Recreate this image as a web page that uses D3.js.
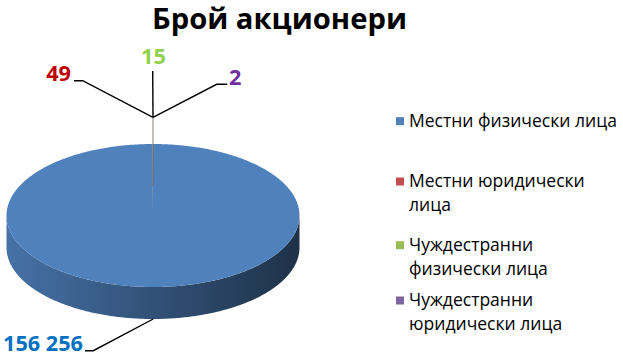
<!DOCTYPE html>
<html><head><meta charset="utf-8">
<script src="https://cdn.jsdelivr.net/npm/d3@7"></script>
<style>html,body{margin:0;padding:0;background:#fff;overflow:hidden}</style>
</head><body>
<svg id="chart" width="623" height="356"></svg>
<script>
// Shareholder counts by category
const categories = [
  "Местни физически лица",
  "Местни юридически лица",
  "Чуждестранни физически лица",
  "Чуждестранни юридически лица"
];
const values = [156256, 49, 15, 2];
const sliceColors = ["#4F81BD", "#C0504D", "#9BBB59", "#8064A2"];
const labelColors = ["#0070C0", "#C00000", "#92D050", "#7030A0"];
const legendLines = [
  ["Местни физически лица"],
  ["Местни юридически", "лица"],
  ["Чуждестранни", "физически лица"],
  ["Чуждестранни", "юридически лица"]
];
const chartTitle = "Брой акционери";

const fmt = d3.formatLocale({decimal: ",", thousands: " ", grouping: [3], currency: ["", ""]}).format(",");

const svg = d3.select("#chart");
const font = "'Open Sans', 'Noto Sans', sans-serif";

// shrink/grow a text element's font so it spans the given width
function fitWidth(sel, width) {
  const node = sel.node();
  const fs = parseFloat(sel.attr("font-size"));
  const w = node.getComputedTextLength();
  sel.attr("font-size", (fs * width / w).toFixed(2));
}

// ---- title ----
svg.append("text")
  .attr("x", 279.5).attr("y", 29)
  .attr("text-anchor", "middle")
  .attr("font-family", font).attr("font-weight", "bold")
  .attr("font-size", 26).attr("fill", "#000")
  .text(chartTitle)
  .call(fitWidth, 255);

// ---- 3D pie geometry ----
const cx = 153, cy = 215.5, rx = 146.5, ry = 71.5, depth = 32;
const pie = d3.pie().sort(null).value(d => d).startAngle(0).endAngle(2 * Math.PI);
const arcs = pie(values);
const pt = (a, f = 1, dz = 0) => [cx + rx * f * Math.sin(a), cy - ry * f * Math.cos(a) + dz];
const sample = (a0, a1) => {
  const n = Math.max(2, Math.ceil(Math.abs(a1 - a0) / 0.01));
  return d3.range(n + 1).map(i => a0 + (a1 - a0) * i / n);
};
const line = d3.line();

const defs = svg.append("defs");
arcs.forEach((d, i) => {
  const c = d3.color(sliceColors[i]);
  const g = defs.append("linearGradient")
    .attr("id", "side" + i)
    .attr("gradientUnits", "userSpaceOnUse")
    .attr("x1", cx - rx).attr("x2", cx + rx).attr("y1", 0).attr("y2", 0);
  g.append("stop").attr("offset", 0).attr("stop-color", c.darker(0.35));
  g.append("stop").attr("offset", 0.5).attr("stop-color", c.darker(1.3));
  g.append("stop").attr("offset", 1).attr("stop-color", c.darker(2.7));
});

// side walls (front half only)
const sides = svg.append("g");
arcs.forEach((d, i) => {
  const a0 = Math.max(d.startAngle, Math.PI / 2);
  const a1 = Math.min(d.endAngle, 3 * Math.PI / 2);
  if (a1 <= a0) return;
  const top = sample(a0, a1).map(a => pt(a));
  const bot = sample(a0, a1).reverse().map(a => pt(a, 1, depth));
  sides.append("path")
    .attr("d", line(top.concat(bot)) + "Z")
    .attr("fill", `url(#side${i})`);
});

// top faces
const tops = svg.append("g");
arcs.forEach((d, i) => {
  const rim = sample(d.startAngle, d.endAngle).map(a => pt(a));
  tops.append("path")
    .attr("d", line([[cx, cy]].concat(rim)) + "Z")
    .attr("fill", sliceColors[i]);
});

// ---- data labels with leader lines ----
const hub = [153, 117.3];
const labelLayout = [
  {x: 83, y: 350.5, anchor: "end", path: [[93.3, 350.7], [85, 350.7]], width: 80},
  {x: 71, y: 81, anchor: "end", path: [[82.7, 80.7], [74, 80.7]], width: 24},
  {x: 153.5, y: 64, anchor: "middle", path: [[152.7, 71]], width: 25},
  {x: 229, y: 85, anchor: "start", path: [[216.7, 84.3], [227.3, 84.3]], width: 11}
];
const leaders = svg.append("g");
arcs.forEach((d, i) => {
  const mid = (d.startAngle + d.endAngle) / 2;
  const L = labelLayout[i];
  if (i === 0) {
    const start = pt(mid, 1, depth);
    leaders.append("path")
      .attr("d", line([start].concat(L.path)))
      .attr("fill", "none").attr("stroke", "#000").attr("stroke-width", 1.4);
  } else {
    const anchorPt = pt(mid, 0.4);
    leaders.append("path")
      .attr("d", line([anchorPt, hub]))
      .attr("fill", "none").attr("stroke", "#7a6a5c").attr("stroke-opacity", 0.35).attr("stroke-width", 1);
    leaders.append("path")
      .attr("d", line([hub].concat(L.path)))
      .attr("fill", "none").attr("stroke", "#000").attr("stroke-width", 1.4);
  }
});

const labels = svg.append("g");
const labelSize = (() => {
  const t = labels.append("text").attr("font-family", font).attr("font-weight", "bold")
    .attr("font-size", 20).text(fmt(values[0]));
  const s = 20 * labelLayout[0].width / t.node().getComputedTextLength();
  t.remove();
  return s;
})();
arcs.forEach((d, i) => {
  const L = labelLayout[i];
  labels.append("text")
    .attr("x", L.x).attr("y", L.y)
    .attr("text-anchor", L.anchor)
    .attr("font-family", font).attr("font-weight", "bold")
    .attr("font-size", labelSize.toFixed(2))
    .attr("fill", labelColors[i])
    .text(fmt(d.data));
});

// ---- legend ----
const legend = svg.append("g");
const legendBaselines = [126.7, 187, 250.7, 306];
const legendLineGap = 24;
const legendSize = (() => {
  const t = legend.append("text").attr("font-family", font).attr("font-size", 16).text(legendLines[0][0]);
  const s = 16 * 208 / t.node().getComputedTextLength();
  t.remove();
  return s;
})();
categories.forEach((c, i) => {
  const y = legendBaselines[i];
  legend.append("rect")
    .attr("x", 396).attr("y", y - 9.5).attr("width", 8).attr("height", 8)
    .attr("fill", sliceColors[i]);
  const t = legend.append("text")
    .attr("x", 409).attr("y", y)
    .attr("font-family", font).attr("font-size", legendSize.toFixed(2))
    .attr("fill", "#000");
  legendLines[i].forEach((ln, j) => {
    t.append("tspan").attr("x", 409).attr("y", y + j * legendLineGap).text(ln);
  });
});
</script>
</body></html>
